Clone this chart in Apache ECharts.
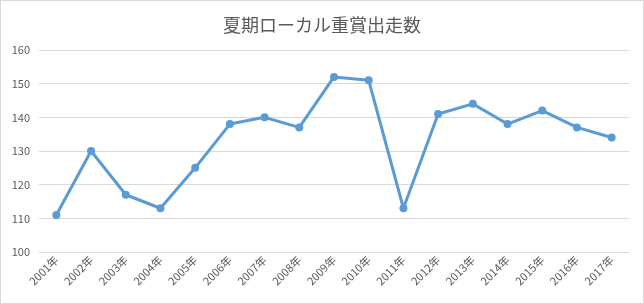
<!DOCTYPE html>
<html><head><meta charset="utf-8">
<script src="https://cdn.jsdelivr.net/npm/echarts@6/dist/echarts.min.js"></script>
<style>
html,body{margin:0;padding:0;background:#fff;}
#c{width:644px;height:304px;box-sizing:border-box;border:1px solid #d9d9d9;}
</style></head>
<body><div id="c"></div>
<script>
const categories = ['2001年','2002年','2003年','2004年','2005年','2006年','2007年','2008年','2009年','2010年','2011年','2012年','2013年','2014年','2015年','2016年','2017年'];
const values = [111,130,117,113,125,138,140,137,152,151,113,141,144,138,142,137,134];
const titleText = '夏期ローカル重賞出走数';
const font = '"Noto Sans CJK JP", "Noto Sans", sans-serif';
const chart = echarts.init(document.getElementById('c'));
chart.setOption({
  animation:false,
  title:{text:titleText,left:'center',top:10,textStyle:{fontFamily:font,fontSize:18,fontWeight:'normal',color:'#595959'}},
  grid:{left:38,right:14,top:49,bottom:51,containLabel:false},
  xAxis:{type:'category',data:categories,boundaryGap:true,
    axisLine:{show:true,lineStyle:{color:'#d9d9d9'}},axisTick:{show:false},
    axisLabel:{rotate:45,interval:0,fontFamily:font,fontSize:11,color:'#595959',margin:6}},
  yAxis:{type:'value',min:100,max:160,interval:10,
    axisLine:{show:false},axisTick:{show:false},
    splitLine:{lineStyle:{color:'#d9d9d9'}},
    axisLabel:{fontFamily:font,fontSize:11,color:'#595959',margin:9}},
  series:[{type:'line',data:values,symbol:'circle',symbolSize:8,
    lineStyle:{color:'#5b9bd5',width:3},itemStyle:{color:'#5b9bd5'}}]
});
</script></body></html>
